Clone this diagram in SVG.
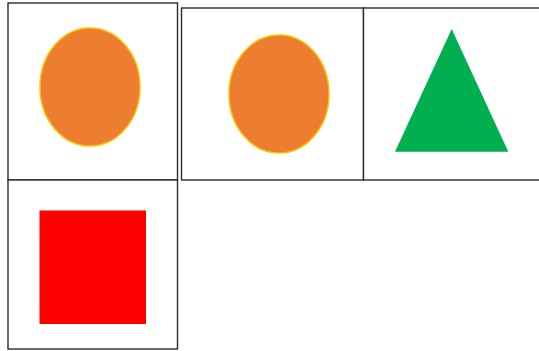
<svg xmlns="http://www.w3.org/2000/svg" width="539" height="351" viewBox="0 0 539 351">
<style>
.cell{fill:#fff;stroke:#2b2b2b;stroke-width:1.4}
.oval{fill:#ED7D31;stroke:#FFC000;stroke-width:1.5}
</style>
<rect width="539" height="351" fill="#fff"/>
<g id="cell1"><rect class="cell" x="8" y="3" width="169.5" height="177"/><ellipse class="oval" cx="90" cy="87" rx="50" ry="59"/></g>
<g id="cell2"><rect class="cell" x="181.5" y="8" width="182" height="172"/><ellipse class="oval" cx="279" cy="94" rx="50" ry="59"/></g>
<g id="cell3"><rect class="cell" x="363.5" y="8" width="180" height="172"/><polygon points="451.7,29 395,151.7 508.3,151.7" fill="#00B050"/></g>
<g id="cell4"><rect class="cell" x="8" y="180" width="169.5" height="169"/><rect x="39.5" y="210.5" width="106.5" height="113.5" fill="#FF0000"/></g>
<g id="connectors"></g>
</svg>
